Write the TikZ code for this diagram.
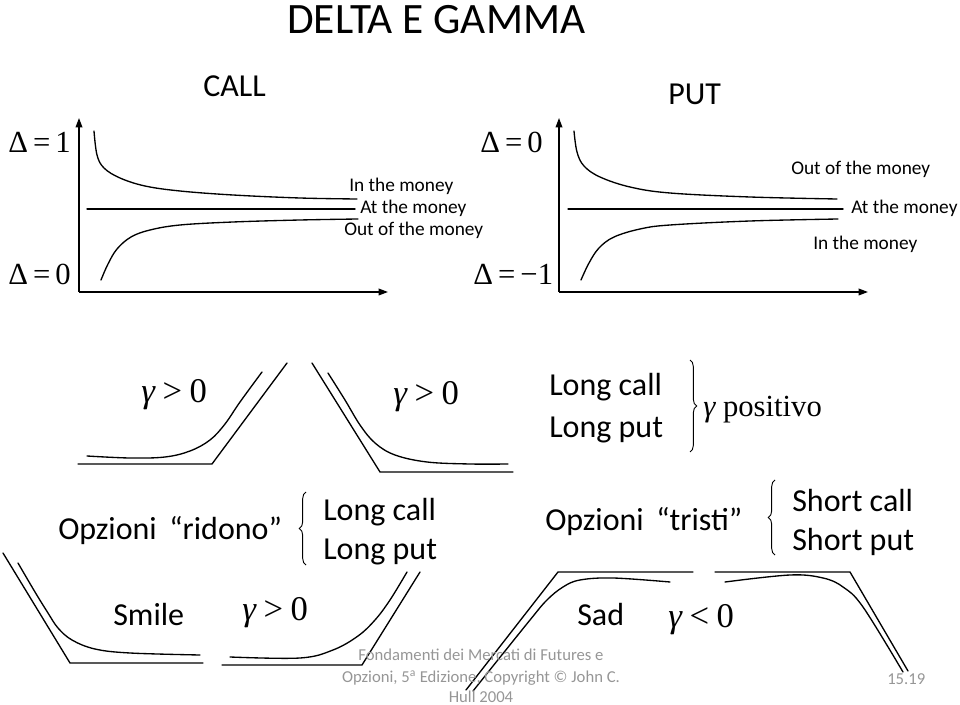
\documentclass[tikz,border=0pt]{standalone}
\usepackage{fontspec}
\setmainfont{Carlito}
\newfontfamily\tms{Liberation Serif}
\usetikzlibrary{arrows.meta,decorations.pathreplacing}
\definecolor{footgray}{RGB}{150,150,150}
\begin{document}
\begin{tikzpicture}[x=0.75pt,y=-0.75pt,
  ln/.style={line width=1pt, line join=round, line cap=round},
  axis/.style={line width=1pt, -{Triangle[length=7pt,width=5pt]}},
  lbl/.style={inner sep=0pt, anchor=base west},
  ttl/.style={lbl, font=\fontsize{32.5}{36}\selectfont},
  big/.style={lbl, font=\fontsize{24}{28}\selectfont},
  money/.style={lbl, font=\fontsize{14.5}{17}\selectfont},
  mth/.style={lbl, font=\tms\fontsize{23}{26}\selectfont},
  gam/.style={lbl, font=\tms\fontsize{26}{29}\selectfont},
  foot/.style={inner sep=0pt, anchor=base, font=\fontsize{12.5}{15}\selectfont, text=footgray},
  brc/.style={line width=0.7pt, decorate, decoration={brace, amplitude=5pt}}
]
\useasboundingbox (0,0) rectangle (960,705);

% titles
\node[ttl] (title) at (287,34) {DELTA E GAMMA};
\node[big] (call) at (203,97) {CALL};
\node[big] (put) at (668,105) {PUT};

% ---- CALL delta graph
\coordinate (o1) at (79,292);
\coordinate (y1) at (79,118);
\coordinate (x1) at (388,292);
\draw[axis] (o1) -- (y1);
\draw[axis] (o1) -- (x1);
\node[mth] (d1) at (8,153) {Δ\,=\,1};
\node[mth] (d0) at (8,285) {Δ\,=\,0};
\draw[ln] plot[smooth, tension=0.6] coordinates {(94,131) (97,155) (104,168) (120,178) (145,186) (180,191) (233,195) (300,198) (357,199)};
\coordinate (a1) at (87,209); \coordinate (a2) at (355,209);
\draw[ln] (a1) -- (a2);
\draw[ln] plot[smooth, tension=0.6] coordinates {(101,280) (108,264) (117,249) (131,237) (150,230) (180,225) (233,222) (300,220) (358,219)};
\node[money] (itm1) at (349,192) {In the money};
\node[money] (atm1) at (360,214) {At the money};
\node[money] (otm1) at (344,236) {Out of the money};

% ---- PUT delta graph
\coordinate (o2) at (559,292);
\coordinate (y2) at (559,118);
\coordinate (x2) at (868,292);
\draw[axis] (o2) -- (y2);
\draw[axis] (o2) -- (x2);
\node[mth] (e0) at (480,153) {Δ\,=\,0};
\node[mth] (em) at (473,285) {Δ\,=\,−1};
\draw[ln] plot[smooth, tension=0.6] coordinates {(574,131) (577,152) (584,166) (600,177) (630,187) (670,193) (750,197) (837,199)};
\coordinate (b1) at (568,209); \coordinate (b2) at (843,209);
\draw[ln] (b1) -- (b2);
\draw[ln] plot[smooth, tension=0.6] coordinates {(581,280) (589,263) (599,248) (614,237) (640,229) (670,225) (750,221) (838,219)};
\node[money] (otm2) at (791,175) {Out of the money};
\node[money] (atm2) at (851,214) {At the money};
\node[money] (itm2) at (813,250) {In the money};

% ---- middle row: long call / long put payoffs
\draw[ln] (78,464) -- (212,464) -- (287,363);
\draw[ln] plot[smooth, tension=0.6] coordinates {(87,456) (130,458) (165,457) (190,451) (210,440) (225,424) (240,402) (262,372)};
\node[gam] (g1) at (141,403) {{\itshape γ}\hspace{0.22em}>\hspace{0.22em}0};

\draw[ln] (312,363) -- (380,472) -- (513,472);
\draw[ln] plot[smooth, tension=0.6] coordinates {(328,373) (345,400) (360,425) (375,443) (395,455) (427,462) (470,464) (508,464)};
\node[gam] (g2) at (393,405) {{\itshape γ}\hspace{0.22em}>\hspace{0.22em}0};

\node[big] (lc1) at (549,396) {Long call};
\node[big] (lp1) at (549,438) {Long put};
\coordinate (br1a) at (690,360); \coordinate (br1b) at (690,452);
\draw[brc] (br1a) -- (br1b);
\node[lbl, font=\tms\fontsize{23}{26}\selectfont] (pos) at (703,417) {{\itshape γ} positivo};

% ---- second text row
\node[big] (rid) at (58,539) {Opzioni \,“ridono”};
\coordinate (br2a) at (306,565); \coordinate (br2b) at (306,492);
\draw[brc] (br2a) -- (br2b);
\node[big] (lc2) at (323,521) {Long call};
\node[big] (lp2) at (323,559) {Long put};

\node[big] (tri) at (545,530) {Opzioni \,“tristi”};
\coordinate (br3a) at (775,555); \coordinate (br3b) at (775,480);
\draw[brc] (br3a) -- (br3b);
\node[big] (sc) at (792,512) {Short call};
\node[big] (sp) at (792,550) {Short put};

% ---- smile
\draw[ln] (3,553) -- (70,663) -- (203,663);
\draw[ln] plot[smooth, tension=0.6] coordinates {(18,563) (35,592) (48,613) (58,628) (72,640) (95,649) (130,653) (200,655)};
\draw[ln] (222,665) -- (362,665) -- (420,572);
\draw[ln] plot[smooth, tension=0.6] coordinates {(230,657) (300,658) (333,650) (358,636) (375,620) (390,600) (407,572)};
\node[big] (smile) at (113,625) {Smile};
\node[gam] (g3) at (242,620) {{\itshape γ}\hspace{0.22em}>\hspace{0.22em}0};

% ---- sad
\draw[ln] (466,690) -- (558,572) -- (693,572);
\draw[ln] plot[smooth, tension=0.6] coordinates {(473,691) (530,620) (547,600) (563,587) (580,580) (613,578) (670,582)};
\draw[ln] (715,572) -- (850,572) -- (908,671);
\draw[ln] plot[smooth, tension=0.6] coordinates {(725,582) (790,575) (823,578) (843,587) (863,607) (903,672)};
\node[big] (sad) at (577,625) {Sad};
\node[gam] (g4) at (668,627) {{\itshape γ}\hspace{0.22em}<\hspace{0.22em}0};

% ---- footer
\node[foot] (f1) at (481,660) {Fondamenti dei Mercati di Futures e};
\node[foot] (f2) at (481,682) {Opzioni, 5\textsuperscript{a} Edizione, Copyright © John C.};
\node[foot] (f3) at (481,702) {Hull 2004};
\node[lbl, font=\fontsize{12.5}{15}\selectfont, text=footgray] (pg) at (887,684) {15.19};
\end{tikzpicture}
\end{document}
